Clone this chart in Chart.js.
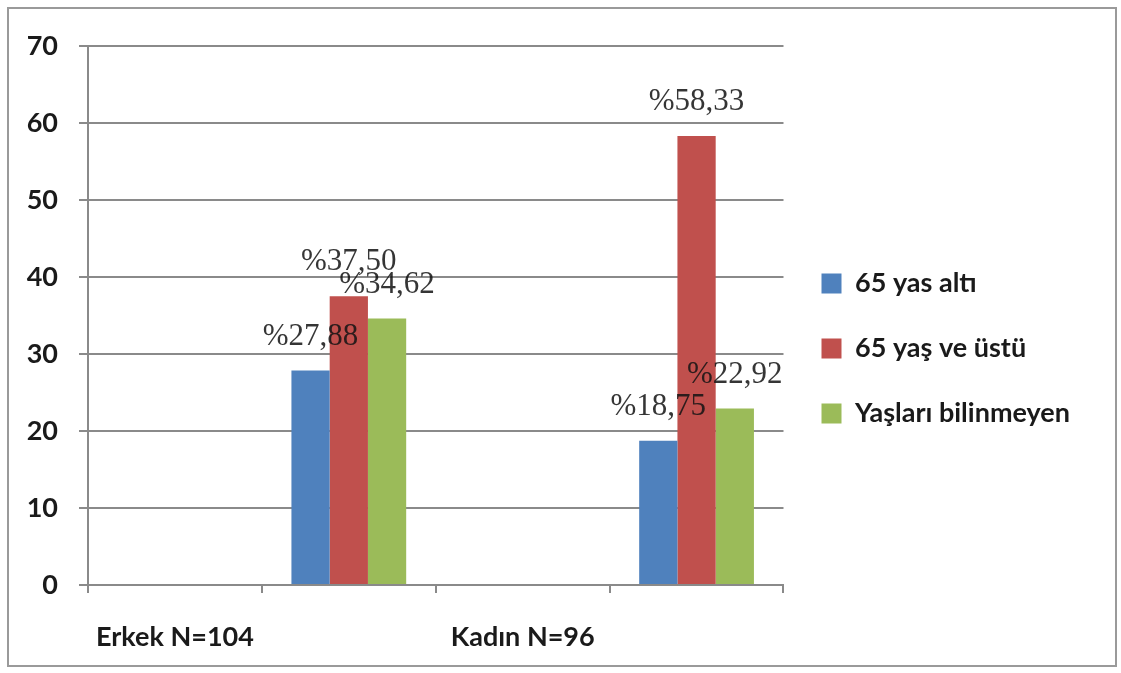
<!DOCTYPE html>
<html lang="tr">
<head>
<meta charset="utf-8">
<title>65 yaş grupları</title>
<script src="https://cdn.jsdelivr.net/npm/chart.js@4.4.1/dist/chart.umd.min.js"></script>
<style>
  html, body { margin: 0; padding: 0; background: #ffffff; }
  #frame {
    position: absolute; left: 7px; top: 7px;
    width: 1106px; height: 656px;
    border: 2px solid #9a9a9a;
    background: #ffffff;
  }
  #chart { display: block; }
</style>
</head>
<body>
<div id="frame"><canvas id="chart" width="1106" height="656"></canvas></div>
<script>
// Category slots: each group label sits in its own slot, its bars in the next one
const categories = ['Erkek N=104', '', 'Kadın N=96', ''];

// Percentages per age group
const under65     = [null, 27.88, null, 18.75];
const over65      = [null, 37.50, null, 58.33];
const ageUnknown  = [null, 34.62, null, 22.92];

const seriesNames = ['65 yas altı', '65 yaş ve üstü', 'Yaşları bilinmeyen'];
const seriesColors = ['#4F81BD', '#C0504D', '#9BBB59'];

const yTicks = [0, 10, 20, 30, 40, 50, 60, 70];

// Value labels written as "%27,88" above every bar
const valueLabels = {
  id: 'valueLabels',
  afterDatasetsDraw(chart) {
    const ctx = chart.ctx;
    ctx.save();
    ctx.font = '31px "Liberation Serif", "Times New Roman", serif';
    ctx.fillStyle = 'rgba(20,20,20,0.86)';
    ctx.textAlign = 'center';
    ctx.textBaseline = 'middle';
    chart.data.datasets.forEach((ds, di) => {
      const meta = chart.getDatasetMeta(di);
      meta.data.forEach((el, i) => {
        const v = ds.data[i];
        if (v === null || v === undefined) return;
        const txt = '%' + v.toFixed(2).replace('.', ',');
        ctx.fillText(txt, el.x, el.y - 34);
      });
    });
    ctx.restore();
  }
};

const gridColor = '#8a8a8a';
const boldFont = { family: 'Lato, "Open Sans", sans-serif', size: 27, weight: 'bold' };

new Chart(document.getElementById('chart'), {
  type: 'bar',
  data: {
    labels: categories,
    datasets: [
      { label: seriesNames[0], data: under65,    backgroundColor: seriesColors[0] },
      { label: seriesNames[1], data: over65,     backgroundColor: seriesColors[1] },
      { label: seriesNames[2], data: ageUnknown, backgroundColor: seriesColors[2] }
    ]
  },
  options: {
    responsive: false,
    animation: false,
    devicePixelRatio: 1,
    categoryPercentage: 0.66,
    barPercentage: 1.0,
    layout: { padding: { left: 9, right: 35, top: 34, bottom: 11 } },
    plugins: {
      legend: {
        position: 'right',
        align: 'center',
        maxWidth: 300,
        labels: {
          boxWidth: 20,
          boxHeight: 20,
          padding: 38,
          color: '#1a1a1a',
          font: boldFont
        }
      },
      tooltip: { enabled: false }
    },
    scales: {
      x: {
        offset: true,
        grid: {
          offset: true,
          drawOnChartArea: false,
          drawTicks: true,
          tickLength: 8,
          color: gridColor,
          lineWidth: 2
        },
        border: { display: true, color: gridColor, width: 2 },
        ticks: {
          autoSkip: false,
          maxRotation: 0,
          padding: 28,
          color: '#1a1a1a',
          font: boldFont
        },
        afterFit(scale) { scale.height = 69; }
      },
      y: {
        min: 0,
        max: 70,
        afterBuildTicks(scale) { scale.ticks = yTicks.map(v => ({ value: v })); },
        grid: {
          color: gridColor,
          lineWidth: 2,
          drawTicks: true,
          tickLength: 9
        },
        border: { display: true, color: gridColor, width: 2 },
        ticks: {
          padding: 21,
          color: '#1a1a1a',
          font: boldFont
        },
        afterFit(scale) { scale.width = 70; }
      }
    }
  },
  plugins: [valueLabels]
});
</script>
</body>
</html>
